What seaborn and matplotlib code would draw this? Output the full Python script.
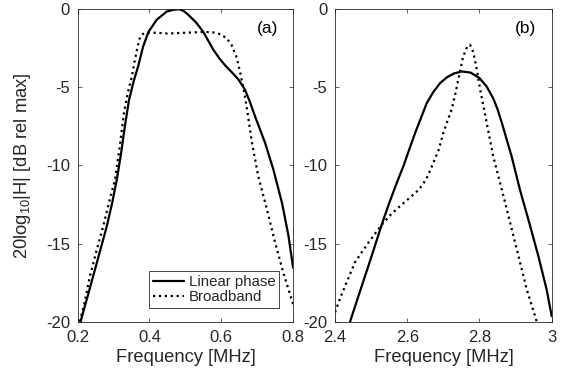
import numpy as np
import pandas as pd
import matplotlib
matplotlib.use('Agg')
import matplotlib.pyplot as plt
import seaborn as sns

# Panel (a): low frequency band
freq_a_lin = [0.208, 0.225, 0.243, 0.262, 0.281, 0.296, 0.309, 0.321, 0.332, 0.343,
              0.356, 0.369, 0.382, 0.397, 0.42, 0.448, 0.468, 0.483, 0.495, 0.508,
              0.53, 0.55, 0.578, 0.595, 0.611, 0.63, 0.648, 0.666, 0.68, 0.694,
              0.722, 0.745, 0.769, 0.787, 0.8]
db_a_lin = [-20, -18.6, -17.1, -15.5, -13.9, -12.4, -10.9, -9.2, -7.4, -5.8,
            -4.6, -3.6, -2.4, -1.45, -0.67, -0.14, -0.02, 0, -0.1, -0.35,
            -0.85, -1.45, -2.6, -3.15, -3.6, -4.05, -4.5, -5.15, -5.95, -6.86,
            -8.56, -10.27, -12.4, -14.5, -16.56]

freq_a_bb = [0.206, 0.22, 0.234, 0.252, 0.271, 0.288, 0.304, 0.317, 0.329, 0.34,
             0.351, 0.358, 0.365, 0.372, 0.38, 0.39, 0.42, 0.45, 0.5, 0.55,
             0.569, 0.585, 0.597, 0.615, 0.629, 0.643, 0.653, 0.662, 0.671, 0.685,
             0.703, 0.727, 0.75, 0.773, 0.8]
db_a_bb = [-20, -18.7, -17.1, -15.5, -13.9, -12.3, -10.9, -8.8, -6.6, -5.3,
           -4.3, -3.4, -2.6, -1.9, -1.6, -1.5, -1.5, -1.55, -1.5, -1.45,
           -1.46, -1.5, -1.6, -1.85, -2.3, -3.1, -4.1, -5.1, -6.3, -8.5,
           -10.7, -12.8, -14.96, -16.9, -18.9]

# Panel (b): high frequency band
freq_b_lin = [2.4415, 2.467, 2.492, 2.511, 2.529, 2.55, 2.571, 2.59, 2.605, 2.622,
              2.654, 2.672, 2.691, 2.71, 2.73, 2.751, 2.775, 2.8, 2.82, 2.838,
              2.85, 2.862, 2.889, 2.912, 2.938, 2.963, 2.986, 3.0]
db_b_lin = [-20, -18.2, -16.45, -15.1, -13.8, -12.4, -11.1, -10.0, -9.0, -7.9,
            -6.0, -5.3, -4.72, -4.35, -4.1, -3.98, -4.05, -4.4, -4.95, -5.7,
            -6.4, -7.28, -9.42, -11.55, -13.68, -15.8, -17.95, -19.65]

freq_b_bb = [2.4, 2.414, 2.428, 2.455, 2.492, 2.529, 2.556, 2.585, 2.61, 2.632,
             2.652, 2.668, 2.687, 2.7, 2.712, 2.723, 2.735, 2.745, 2.753, 2.76,
             2.767, 2.773, 2.779, 2.785, 2.791, 2.802, 2.82, 2.838, 2.862, 2.885,
             2.908, 2.931, 2.957, 2.962]
db_b_bb = [-19.4, -18.5, -17.7, -16.2, -14.95, -13.8, -13.1, -12.5, -12.0, -11.55,
           -10.9, -10.06, -9.0, -7.9, -7.1, -6.4, -5.2, -4.1, -3.2, -2.7,
           -2.35, -2.27, -2.45, -3.0, -3.66, -5.15, -7.28, -9.42, -11.55, -13.68,
           -15.8, -17.95, -19.87, -20.5]

xticks_a = [0.2, 0.4, 0.6, 0.8]
xticklabels_a = ['0.2', '0.4', '0.6', '0.8']
xticks_b = [2.4, 2.6, 2.8, 3.0]
xticklabels_b = ['2.4', '2.6', '2.8', '3']
yticks = [-20, -15, -10, -5, 0]
yticklabels = ['-20', '-15', '-10', '-5', '0']
series_names = ['Linear phase', 'Broadband']
panel_tags = ['(a)', '(b)']

sns.set_style('ticks')
plt.rcParams['font.family'] = ['Liberation Sans', 'DejaVu Sans']
plt.rcParams['mathtext.default'] = 'regular'
plt.rcParams['axes.unicode_minus'] = False

txt = '#262626'
fig = plt.figure(figsize=(5.67, 3.79), dpi=100)
ax_a = fig.add_axes([0.137, 0.1514, 0.380, 0.824])
ax_b = fig.add_axes([0.591, 0.1514, 0.382, 0.824])

sns.lineplot(x=freq_a_lin, y=db_a_lin, ax=ax_a, color='black', lw=1.6,
             sort=False, estimator=None, label=series_names[0])
sns.lineplot(x=freq_a_bb, y=db_a_bb, ax=ax_a, color='black', lw=1.6, ls=':',
             sort=False, estimator=None, label=series_names[1])
sns.lineplot(x=freq_b_lin, y=db_b_lin, ax=ax_b, color='black', lw=1.6,
             sort=False, estimator=None)
sns.lineplot(x=freq_b_bb, y=db_b_bb, ax=ax_b, color='black', lw=1.6, ls=':',
             sort=False, estimator=None)

for ax, xt, xtl, xl, tag in [(ax_a, xticks_a, xticklabels_a, (0.2, 0.8), panel_tags[0]),
                             (ax_b, xticks_b, xticklabels_b, (2.4, 3.0), panel_tags[1])]:
    ax.set_xlim(*xl)
    ax.set_ylim(-20, 0)
    ax.set_xticks(xt)
    ax.set_xticklabels(xtl)
    ax.set_yticks(yticks)
    ax.set_yticklabels(yticklabels)
    ax.tick_params(direction='in', length=3, width=0.5, top=True, right=True,
                   labelsize=12, colors=txt, pad=5.5)
    ax.tick_params(axis='x', pad=6)
    for s in ax.spines.values():
        s.set_visible(True)
        s.set_linewidth(0.6)
        s.set_color(txt)
    ax.set_xlabel('Frequency [MHz]', fontsize=13.2, color=txt, labelpad=3)
    ax.set_ylabel('')
    ax.text(0.93, 0.939, tag, transform=ax.transAxes, ha='right', va='center',
            fontsize=12.5, color='black')

ax_a.set_ylabel('20log$_{10}$|H| [dB rel max]', fontsize=13.2, color=txt, labelpad=9)

leg = ax_a.legend(loc='lower right', bbox_to_anchor=(0.935, 0.043), fontsize=10.8,
                  frameon=True, fancybox=False, handlelength=2.1, handletextpad=0.3,
                  borderpad=0.25, labelspacing=0.1, borderaxespad=0)
leg.get_frame().set_edgecolor(txt)
leg.get_frame().set_linewidth(0.6)
leg.get_frame().set_alpha(1)

fig.savefig('out.png', dpi=100)
